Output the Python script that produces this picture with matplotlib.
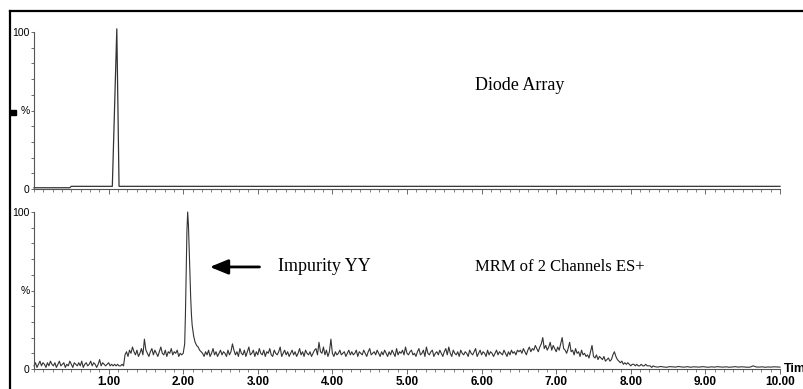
import matplotlib
matplotlib.use("Agg")
import matplotlib.pyplot as plt
import numpy as np
from matplotlib.lines import Line2D
from matplotlib.patches import Rectangle
from matplotlib.ticker import MultipleLocator

# --- Diode array trace (top) -----------------------------------------------
uv_time = [0.00, 0.48, 0.50, 1.05, 1.11, 1.14, 10.00]
uv_int = [0.8, 0.8, 1.7, 1.7, 102, 1.7, 1.7]

# --- MRM trace (bottom), typed in segments --------------------------------
seg_a = [2, 4, 1, 3, 5, 2, 4, 3, 1, 4, 2, 5, 3, 2, 4, 1, 3, 5, 2, 3,
         4, 1, 3, 2, 5, 3, 1, 4, 3, 2, 4, 2, 5, 1, 3, 4, 2, 3, 5, 2,
         4, 3, 1, 3, 6, 2, 4, 3, 2, 3, 4, 2, 3, 2, 3, 2, 3, 2, 2, 3, 2]
seg_b = [9, 11, 8, 12, 10, 14, 11, 9, 12, 8, 10, 13, 9, 19, 12, 10, 8, 11, 13, 9,
         12, 10, 8, 11, 14, 10, 9, 12, 8, 11, 10, 13, 9, 11, 10, 12, 8, 10, 9]
peak_time = [2.00, 2.02, 2.03, 2.04, 2.05, 2.06, 2.07, 2.08, 2.09,
             2.10, 2.11, 2.12, 2.14, 2.16, 2.18, 2.20, 2.22, 2.24]
peak_int = [10, 16, 35, 62, 88, 100, 92, 76, 60, 46, 35, 28, 21, 17, 15, 14, 12, 11]
seg_c = [10, 8, 11, 9, 12, 8, 10, 13, 9, 11, 8, 10, 12, 9, 11, 10, 8, 12, 9, 11,
         16, 12, 9, 11, 8, 13, 10, 9, 12, 8, 11, 14, 9, 10, 12, 8, 11, 9, 13, 10,
         9, 12, 8, 11, 10, 13, 9, 8, 12, 10, 9, 11, 14, 8, 10, 12, 9, 11, 8, 10,
         12, 9, 11, 8, 10, 13, 9, 11, 8, 12, 10, 9, 11, 8, 10, 12, 13, 9, 17, 11,
         10, 14, 9, 12, 8, 11, 19, 10, 8, 11, 9, 10, 12, 9, 10, 11, 8, 10, 12, 9,
         11, 9, 10, 12, 8, 11, 10, 9, 12, 10, 8, 11, 13, 9, 10, 11, 9, 12, 10, 8,
         11, 9, 12, 10, 8, 11, 9, 12, 10, 8, 13, 9, 11, 10, 12, 9, 14, 10, 9, 11,
         12, 9, 10, 8, 11, 13, 9, 10, 12, 8, 14, 10, 9, 11, 12, 8, 10, 11, 9, 12,
         10, 8, 11, 13, 9, 14, 10, 8, 12, 10, 9, 11, 8, 12, 10, 9, 11, 10, 8, 12,
         10, 9, 11, 13, 8, 10, 12, 9, 11, 10, 8, 12, 9, 11, 10, 8, 10, 12, 9, 11,
         10, 9, 12, 10, 8, 11, 9, 12, 10, 11, 9, 12, 11]
seg_d = [12, 10, 13, 11, 9, 12, 14, 11, 13, 12, 15, 13, 11, 14, 16, 20, 13, 15, 12, 14,
         17, 12, 15, 13, 11, 14, 12, 16, 20, 13]
seg_e = [12, 10, 13, 17, 11, 12, 9, 13, 10, 11, 8, 12, 9, 10, 8, 9, 7, 11, 15, 8,
         7, 9, 6, 8, 7, 6, 8, 5, 6, 7, 5, 6, 9, 11, 8]
seg_f = [6, 5, 4, 5, 3, 4, 3, 4, 3, 2, 3, 3, 2, 3, 2, 2, 3, 2, 2, 3, 2, 2, 2, 1, 2]
seg_g = [1.5, 1.2, 1.6, 1.3, 1.1, 1.5, 1.4, 1.2, 1.6, 1.3, 1.2, 1.5, 1.1, 1.4, 1.3,
         1.2, 1.5, 1.3, 1.1, 1.4, 1.2, 1.5, 1.3, 1.2, 1.4, 1.1, 1.3, 1.5, 1.2, 1.4,
         1.3, 1.1, 1.2, 2.0, 1.3, 1.2, 1.4, 1.1, 1.3, 1.2, 1.4, 1.3, 1.2]

# scan ranges (start, end) for each typed segment
segments = [((0.00, 1.20), seg_a), ((1.22, 1.98), seg_b), ((2.26, 6.50), seg_c),
            ((6.52, 7.10), seg_d), ((7.12, 7.80), seg_e), ((7.82, 8.30), seg_f),
            ((8.32, 10.00), seg_g)]

mrm_time, mrm_int = [], []
for (t0, t1), vals in segments[:2]:
    mrm_time += list(np.linspace(t0, t1, len(vals)))
    mrm_int += vals
mrm_time += peak_time
mrm_int += peak_int
for (t0, t1), vals in segments[2:]:
    mrm_time += list(np.linspace(t0, t1, len(vals)))
    mrm_int += vals

x_ticks = [1, 2, 3, 4, 5, 6, 7, 8, 9, 10]
x_labels = [f"{v:.2f}" for v in x_ticks]

W, H = 804, 389
fig = plt.figure(figsize=(W / 100, H / 100), dpi=100)
fig.patch.set_facecolor("white")

sans = "Liberation Sans"
serif = "Liberation Serif"
trace = "#333333"
axc = "#555555"

left, width = 34 / W, (780 - 34) / W
ax_top = fig.add_axes([left, 1 - 189 / H, width, 157 / H])
ax_bot = fig.add_axes([left, 1 - 369 / H, width, 157 / H])


def style(ax, show_x):
    ax.set_xlim(0, 10)
    ax.set_ylim(0, 100)
    for s in ("top", "right"):
        ax.spines[s].set_visible(False)
    for s in ("left", "bottom"):
        ax.spines[s].set_color(axc)
        ax.spines[s].set_linewidth(0.8)
    ax.set_yticks([0, 50, 100])
    ax.set_yticklabels(["0", "%", "100"], fontsize=7.5, family=sans)
    ax.yaxis.set_minor_locator(MultipleLocator(10))
    ax.tick_params(axis="y", which="both", length=2.2, width=0.6, color=axc, pad=1)
    ax.set_xticks(x_ticks)
    ax.xaxis.set_minor_locator(MultipleLocator(0.125))
    ax.tick_params(axis="x", which="major", length=3.5, width=0.6, color=axc, pad=1.5)
    ax.tick_params(axis="x", which="minor", length=2, width=0.5, color=axc)
    if show_x:
        ax.set_xticklabels(x_labels, fontsize=8.5, family=sans, fontweight="bold")
    else:
        ax.set_xticklabels([])
    ax.patch.set_alpha(0)


style(ax_top, False)
style(ax_bot, True)

ax_top.plot(uv_time, uv_int, color=trace, lw=0.9, clip_on=False)
ax_bot.plot(mrm_time, mrm_int, color=trace, lw=0.8, clip_on=False)

ax_top.text(5.91, 66, "Diode Array", family=serif, fontsize=13, va="center", ha="left")
ax_bot.text(5.91, 65, "MRM of 2 Channels ES+", family=serif, fontsize=12,
            va="center", ha="left")
ax_bot.text(3.27, 65, "Impurity YY", family=serif, fontsize=13, va="center", ha="left")
ax_bot.annotate("", xy=(2.32, 65), xytext=(3.06, 65),
                arrowprops=dict(arrowstyle="-|>,head_length=1.1,head_width=0.45",
                                color="black", lw=2))
ax_bot.text(10.05, 0, "Time", family=sans, fontsize=9, fontweight="bold",
            va="center", ha="left", clip_on=False)

# outer frame and small marker on the left edge
fig.add_artist(Line2D([10 / W, 10 / W], [0, 1 - 10.5 / H], color="black", lw=1.6))
fig.add_artist(Line2D([10 / W, 1], [1 - 10.5 / H, 1 - 10.5 / H], color="black", lw=1.6))
fig.add_artist(Rectangle((10 / W, 1 - 115 / H), 6 / W, 5 / H, color="black",
                         transform=fig.transFigure))

fig.savefig("out.png", dpi=100)
